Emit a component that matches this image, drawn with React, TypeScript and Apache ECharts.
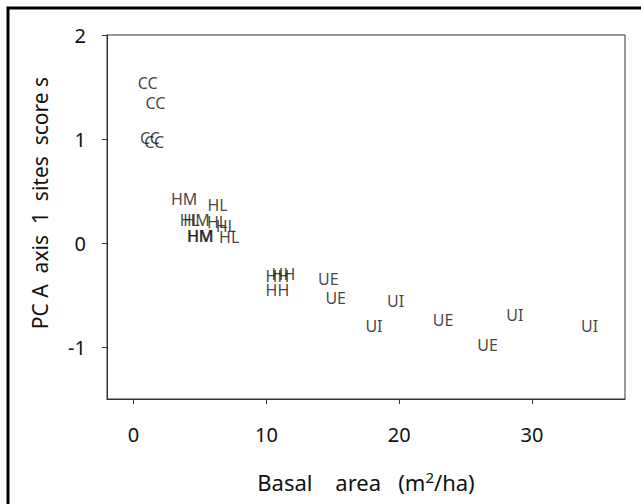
import React, { useEffect, useRef } from "react";
import * as echarts from "echarts";

const siteLabels = [
  "CC", "CC", "CC", "CC",
  "HM", "HL", "HL", "HM", "HL", "HL", "HM", "HM", "HL",
  "HH", "HH", "HH",
  "UE", "UE", "UI", "UI", "UE", "UE", "UI", "UI",
];
const basalArea = [
  1.06, 1.65, 1.23, 1.56,
  3.81, 6.32, 4.24, 4.74, 6.29, 6.95, 4.99, 5.05, 7.2,
  10.83, 11.28, 10.83,
  14.66, 15.22, 19.73, 18.1, 23.31, 26.65, 28.7, 34.33,
];
const pcaScore = [
  1.54, 1.35, 1.01, 0.97,
  0.42, 0.37, 0.22, 0.22, 0.2, 0.165, 0.07, 0.07, 0.06,
  -0.32, -0.3, -0.45,
  -0.35, -0.53, -0.56, -0.8, -0.745, -0.98, -0.69, -0.8,
];
const xTicks = [0, 10, 20, 30];
const yTicks = [-1, 0, 1, 2];

const FONT = "Noto Sans";

export default function App() {
  const ref = useRef<HTMLDivElement>(null);
  useEffect(() => {
    if (!ref.current) return;
    const chart = echarts.init(ref.current, null, { renderer: "svg" });
    const data = siteLabels.map((s, i) => [basalArea[i], pcaScore[i], s]);
    chart.setOption({
      animation: false,
      backgroundColor: "#fff",
      grid: {
        left: 107,
        top: 35,
        right: 16,
        bottom: 105,
        show: true,
        borderColor: "#333",
        borderWidth: 1,
        backgroundColor: "transparent",
      },
      xAxis: {
        type: "value",
        min: -2,
        max: 37,
        axisLine: { show: true, onZero: false, lineStyle: { color: "#333", width: 1 } },
        axisTick: { show: true, inside: false, length: 5, customValues: xTicks, lineStyle: { color: "#333" } },
        axisLabel: { customValues: xTicks, margin: 25, fontSize: 20, color: "#111", fontFamily: FONT },
        splitLine: { show: false },
      },
      yAxis: {
        type: "value",
        min: -1.5,
        max: 2,
        axisLine: { show: true, onZero: false, lineStyle: { color: "#333", width: 1 } },
        axisTick: { show: true, inside: false, length: 5, customValues: yTicks, lineStyle: { color: "#333" } },
        axisLabel: { customValues: yTicks, margin: 21, fontSize: 20, color: "#111", fontFamily: FONT },
        splitLine: { show: false },
      },
      series: [
        {
          type: "scatter",
          data,
          symbolSize: 1,
          itemStyle: { color: "rgba(0,0,0,0)" },
          label: {
            show: true,
            position: "inside",
            formatter: (p: any) => p.value[2],
            fontSize: 16,
            color: "#111",
            fontFamily: FONT,
          },
          labelLayout: { hideOverlap: false },
        },
      ],
      graphic: [
        {
          type: "polyline",
          shape: { points: [[8, 504], [8, 8], [641, 8]] },
          style: { stroke: "#000", lineWidth: 3, fill: "none" },
          silent: true,
        },
        {
          type: "text",
          x: 40,
          y: 203,
          rotation: Math.PI / 2,
          style: {
            text: "PC A  axis  1  sites  score s",
            fontSize: 21,
            fontFamily: FONT,
            fill: "#111",
            align: "center",
            verticalAlign: "middle",
          },
        },
        {
          type: "text",
          x: 366,
          y: 482,
          style: {
            text: "Basal    area   (m{sup|2}/ha)",
            fontSize: 22,
            fontFamily: FONT,
            fill: "#111",
            align: "center",
            verticalAlign: "middle",
            rich: {
              sup: { fontSize: 15, fontFamily: FONT, fill: "#111", padding: [0, 0, 11, 0] },
            },
          },
        },
      ],
    });
    return () => chart.dispose();
  }, []);
  return (
    <div
      ref={ref}
      style={{ position: "absolute", left: 0, top: 0, width: 641, height: 504 }}
    />
  );
}
